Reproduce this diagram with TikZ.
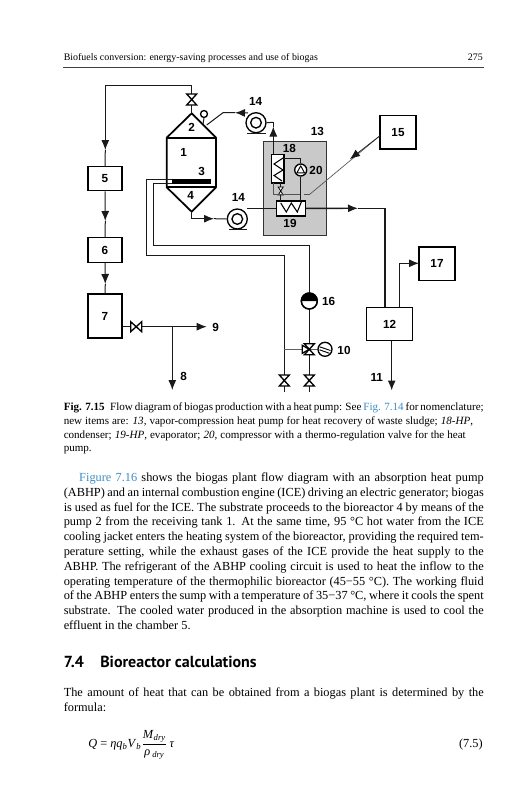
\documentclass[tikz,border=0pt]{standalone}
\usepackage{fontspec}
\setmainfont{Liberation Serif}
\newfontfamily\lblfont{Liberation Sans}
\newfontfamily\headfont{PT Sans}
\usetikzlibrary{arrows.meta,calc}
\definecolor{linkblue}{HTML}{3F8CC4}
\definecolor{boxgray}{HTML}{C9C9C9}
\definecolor{pipe}{HTML}{1A1A1A}
\newcommand{\jl}[2]{\makebox[#1][s]{#2}}
\tikzset{
  x=0.75pt,y=-0.75pt,
  pipeline/.style={draw=pipe,line width=0.75pt},
  thinline/.style={draw=pipe!75,line width=0.5pt},
  arrowline/.style={pipeline,-{Latex[length=7.5pt,width=6pt]}},
  vessel/.style={draw=black,line width=1.3pt,line join=round},
  unit/.style={draw=black,line width=1pt,fill=white,minimum width=#1,inner sep=0pt},
  lbl/.style={font=\lblfont\bfseries\fontsize{8.8}{11}\selectfont,inner sep=0pt},
  pumpc/.style={circle,draw=black,line width=1pt,fill=white,minimum size=#1,inner sep=0pt},
  body/.style={font=\fontsize{9.25}{11.1}\selectfont,inner sep=0pt,anchor=north west,align=left},
  capt/.style={font=\fontsize{8.3}{10.3}\selectfont,inner sep=0pt,anchor=north west,align=left},
  vvalve/.pic={\draw[black,line width=1pt,fill=white,line join=miter] (-5,-5.5) -- (5,-5.5) -- (-5,5.5) -- (5,5.5) -- cycle;},
  hvalve/.pic={\draw[black,line width=1pt,fill=white,line join=miter] (-5.5,-5) -- (-5.5,5) -- (5.5,-5) -- (5.5,5) -- cycle;},
  smallvalve/.pic={\draw[black,line width=0.6pt,fill=white] (-2.5,-4) -- (2.5,-4) -- (-2.5,4) -- (2.5,4) -- cycle;},
  threeway/.pic={\draw[black,line width=1pt,fill=white] (-5,-5.5) -- (5,-5.5) -- (-5,5.5) -- (5,5.5) -- cycle;
    \draw[black,line width=1pt,fill=white] (0,0) -- (-7,-4) -- (-7,4) -- cycle;},
}
\begin{document}
\begin{tikzpicture}
\useasboundingbox[fill=white] (0,0) rectangle (531,800);

% ---- header
\node[inner sep=0pt,anchor=base west,font=\fontsize{7.45}{10}\selectfont] (hdr) at (63.5,60) {Biofuels conversion: energy-saving processes and use of biogas};
\node[inner sep=0pt,anchor=base east,font=\fontsize{7.45}{10}\selectfont] (pg) at (483,60) {275};
\coordinate (ruleL) at (63,67.3); \coordinate (ruleR) at (483.5,67.3);
\draw[draw=black!75,line width=0.7pt] (ruleL) -- (ruleR);

% ---- gray housing
\node[draw=black!80,line width=0.9pt,fill=boxgray,minimum width=47.25pt,minimum height=70.5pt,inner sep=0pt,anchor=north west] (b13) at (263,141) {};

% ---- boxes
\node[unit=25.5pt,minimum height=18pt] (b5) at (105,178.7) {};
\node[unit=25.5pt,minimum height=18.5pt] (b6) at (105,250) {};
\node[unit=25.5pt,minimum height=33pt] (b7) at (105,316) {};
\node[unit=34.5pt,minimum height=25pt] (b12) at (389.7,324) {};
\node[unit=27pt,minimum height=25pt] (b15) at (398,132.2) {};
\node[unit=27pt,minimum height=25pt] (b17) at (437,263.5) {};
\node[unit=9.5pt,minimum height=21.3pt] (b18) at (277.6,168.7) {};
\node[unit=21.7pt,minimum height=11.2pt] (b19) at (290.8,208.4) {};

% ---- reactor
\coordinate (apexT) at (191.7,113.3);
\coordinate (apexB) at (191.7,211.7);
\coordinate (rTL) at (166.7,137.7); \coordinate (rTR) at (216,137.7);
\coordinate (rBL) at (166.7,187.3); \coordinate (rBR) at (216,187.3);
\draw[vessel] (apexT) -- (rTL) -- (rBL) -- (apexB) -- (rBR) -- (rTR) -- cycle;
\draw[vessel] (rTL) -- (rTR);
\draw[vessel] (rBL) -- (rBR);
\node[fill=black,minimum width=29.3pt,minimum height=3.8pt,inner sep=0pt,anchor=west] (el3) at (171.7,181.2) {};

% ---- coordinates
\coordinate (vTop) at (191.7,99.5);
\coordinate (cTL) at (105.3,85); \coordinate (cTR) at (191.7,85);
\coordinate (a5) at (105.3,150);
\coordinate (a6) at (105.3,221);
\coordinate (a7) at (105.3,284);
\coordinate (v7) at (136.2,326.7);
\coordinate (j89) at (172.3,326.7);
\coordinate (t9) at (206.7,326.7);
\coordinate (t8) at (172.3,390);
\node[pumpc=15pt] (p14t) at (256,122.7) {};
\node[pumpc=8pt] (p14ti) at (256,122.7) {};
\node[pumpc=15pt] (p14b) at (237.3,219) {};
\node[pumpc=8pt] (p14bi) at (237.3,219) {};
\coordinate (ptR) at (273.3,122.3);
\coordinate (atUp) at (273.3,126.5);
\coordinate (ptS) at (248,113);
\coordinate (ptTo) at (235,112.7);
\coordinate (ptC) at (223,112.7);
\coordinate (ptE) at (206.7,125);
\coordinate (pbS) at (191.7,218.7);
\coordinate (pbA) at (214,218.7);
\node[pumpc=5.2pt] (gauge) at (204,114) {};
\coordinate (gaugeE) at (203,124);
\coordinate (evapOutA) at (358,208.3);
\coordinate (evapC) at (385,208.3);
\coordinate (in12) at (385,307.3);
\coordinate (o17a) at (399,307.3);
\coordinate (o17b) at (399,263.3);
\coordinate (o17c) at (419,263.3);
\coordinate (o11) at (391.7,340.7);
\coordinate (t11) at (391.7,390.5);

% ---- main connectors
\draw[pipeline] (vTop) -- (apexT);
\draw[pipeline] (vTop) -- (cTR) -- (cTL);
\draw[arrowline] (cTL) -- (a5);
\draw[pipeline] (a5) -- (b5.north);
\draw[arrowline] (b5.south) -- (a6);
\draw[pipeline] (a6) -- (b6.north);
\draw[arrowline] (b6.south) -- (a7);
\draw[pipeline] (a7) -- (b7.north);
\draw[pipeline] (b7.east |- v7) -- (v7);
\draw[arrowline] (v7) -- (t9);
\draw[arrowline] (j89) -- (t8);
\pic at (v7) {hvalve};

% pump loop top
\draw[pipeline] (p14t.east) -- (ptR);
\draw[pipeline] (ptR) -- (atUp);
\draw[arrowline] (ptR |- b18.north) -- (atUp);
\draw[arrowline] (ptS) -- (ptTo);
\draw[pipeline] (ptTo) -- (ptC) -- (ptE);
\draw[pipeline] (gauge.south) -- (gaugeE);

% pump bottom
\draw[pipeline] (apexB) -- (pbS);
\draw[arrowline] (pbS) -- (pbA);
\draw[pipeline] (pbA) -- (p14b.west);
\coordinate (p14bR) at (247,208.3);
\draw[pipeline,line width=1pt] (p14bR) -- (p14bR -| b19.west);
\draw[arrowline,line width=1pt] (b19.east) -- (evapOutA);
\draw[pipeline,line width=1pt] (evapOutA) -- (evapC) -- (in12);
\draw[pipeline] (o17a) -- (o17b);
\draw[arrowline] (o17b) -- (o17c);
\draw[arrowline,line width=1pt] (o11) -- (t11);

% pump bases
\coordinate (bs1) at (247,133.3); \coordinate (bs2) at (266,133.3);
\coordinate (bs3) at (229,229.3); \coordinate (bs4) at (247,229.3);
\draw[pipeline,line width=1pt] (bs1) -- (bs2);
\draw[pipeline,line width=1pt] (bs3) -- (bs4);

% ---- heat pump internals
\node[pumpc=9pt] (c20) at (300.7,170) {};
\coordinate (k1) at (283.3,158); \coordinate (k2) at (300.7,158);
\coordinate (k3) at (300.7,201);
\draw[pipeline,line width=0.7pt] (k1) -- (k2) -- (c20.north);
\draw[pipeline,line width=0.7pt] (c20.south) -- (k3);
\draw[black,line width=0.7pt,fill=white,line join=round] ($(c20)+(0,-4.2)$) -- ($(c20)+(-3.8,2.8)$) -- ($(c20)+(3.8,2.8)$) -- cycle;
\coordinate (ev1) at (280.7,201); \coordinate (ev2) at (280.7,183);
\draw[pipeline,line width=0.7pt] (ev2) -- (ev1);
\pic at (280.7,191) {smallvalve};
\coordinate (l1) at (273,183); \coordinate (l2) at (273,194.5); \coordinate (l3) at (300,194.5);
\draw[thinline] (l1) -- (l2) -- (l3);
\draw[black,line width=0.8pt,line join=miter] (283,158) -- (274,164) -- (283,170) -- (274,175.5) -- (282,181);
\draw[black,line width=0.8pt,line join=miter] (280.7,203) -- (286.3,212) -- (291.3,203) -- (297.3,212) -- (301.3,202);

% thermo-regulation line
\coordinate (tr0) at (304,194.5); \coordinate (tr1) at (309.5,194.5);
\coordinate (tr2) at (380,135.7);
\coordinate (trA) at (350,159);
\draw[thinline] (tr0) -- (tr1) -- (tr2);
\draw[arrowline,line width=0.5pt] (tr2) -- (trA);

% ---- outer jacket pipes
\coordinate (po0) at (171.7,179.3); \coordinate (pi0) at (171.7,183.7);
\coordinate (po1) at (146,179.3); \coordinate (po2) at (146,255.7); \coordinate (po3) at (284.3,255.7);
\coordinate (po4) at (284.3,391.7);
\coordinate (pi1) at (153.3,183.7); \coordinate (pi2) at (153.3,245); \coordinate (pi3) at (309.3,245);
\coordinate (pi4) at (309.3,391.7);
\coordinate (v3) at (309.3,349.3);
\draw[pipeline] (po0) -- (po1) -- (po2) -- (po3) -- (po4);
\draw[pipeline] (pi0) -- (pi1) -- (pi2) -- (pi3) -- (pi4);
\draw[pipeline,draw=pipe!70,line width=1pt] (284.3,349.3) -- (v3);
\draw[pipeline,draw=pipe!70,line width=1pt] (v3) -- (318,349.3);

% pump 16
\node[pumpc=12pt] (p16) at (309.3,301) {};
\fill[black] ($(p16)+(-8,0)$) arc[start angle=180,end angle=360,radius=8] -- cycle;
\draw[black,line width=1pt] (p16) circle[radius=8];

% valves
\pic at (vTop) {vvalve};
\pic at (v3) {threeway};
\coordinate (vb1) at (284.3,380.5); \coordinate (vb2) at (309.3,380.5);
\pic at (vb1) {vvalve};
\pic at (vb2) {vvalve};

% actuator 10
\node[pumpc=10.5pt] (a10) at (325,349.3) {};
\draw[black,line width=0.7pt] ($(a10)+(-5.5,-2.5)$) -- ($(a10)+(5.5,1.2)$);
\draw[black,line width=0.7pt] ($(a10)+(-5.5,0.5)$) -- ($(a10)+(4.5,4)$);

% ---- labels
\node[lbl] (l1n) at (183.7,152.3) {1};
\node[lbl] (l2n) at (191.7,127.3) {2};
\node[lbl] (l3n) at (201.7,171.7) {3};
\node[lbl] (l4n) at (190.7,195) {4};
\node[lbl] (l5n) at (b5) {5};
\node[lbl] (l6n) at (b6) {6};
\node[lbl] (l7n) at (b7) {7};
\node[lbl] (l8n) at (183.7,376) {8};
\node[lbl] (l9n) at (215.7,327) {9};
\node[lbl] (l10n) at (344,350) {10};
\node[lbl] (l11n) at (376.7,377) {11};
\node[lbl] (l12n) at (b12) {12};
\node[lbl] (l13n) at (317.3,131.7) {13};
\node[lbl] (l14a) at (255.7,101.7) {14};
\node[lbl] (l14b) at (238.3,197.7) {14};
\node[lbl] (l15n) at (b15) {15};
\node[lbl] (l16n) at (328.7,301) {16};
\node[lbl] (l17n) at (b17) {17};
\node[lbl] (l18n) at (289.3,148.3) {18};
\node[lbl] (l19n) at (290,223.5) {19};
\node[lbl] (l20n) at (316,170) {20};

% ---- caption
\node[capt] (caption) at (63.5,402.5) {%
\jl{315pt}{\textbf{Fig. 7.15}\enspace Flow diagram of biogas production with a heat pump: See \textcolor{linkblue}{Fig. 7.14} for nomenclature;}\\
\jl{307pt}{new items are: \textit{13}, vapor-compression heat pump for heat recovery of waste sludge; \textit{18-HP},}\\
\jl{301.5pt}{condenser; \textit{19-HP}, evaporator; \textit{20}, compressor with a thermo-regulation valve for the heat}\\
pump.};

% ---- paragraph
\node[body] (para) at (63.5,472.5) {%
\hspace*{11.6pt}\jl{303.4pt}{\textcolor{linkblue}{Figure 7.16} shows the biogas plant flow diagram with an absorption heat pump}\\
\jl{315pt}{(ABHP) and an internal combustion engine (ICE) driving an electric generator; biogas}\\
\jl{315pt}{is used as fuel for the ICE. The substrate proceeds to the bioreactor 4 by means of the}\\
\jl{315pt}{pump 2 from the receiving tank 1. At the same time, 95 °C hot water from the ICE}\\
\jl{315pt}{cooling jacket enters the heating system of the bioreactor, providing the required tem-}\\
\jl{315pt}{perature setting, while the exhaust gases of the ICE provide the heat supply to the}\\
\jl{315pt}{ABHP. The refrigerant of the ABHP cooling circuit is used to heat the inflow to the}\\
\jl{315pt}{operating temperature of the thermophilic bioreactor (45−55 °C). The working fluid}\\
\jl{315pt}{of the ABHP enters the sump with a temperature of 35−37 °C, where it cools the spent}\\
\jl{315pt}{substrate. The cooled water produced in the absorption machine is used to cool the}\\
effluent in the chamber 5.};

% ---- heading
\node[inner sep=0pt,anchor=base west,font=\headfont\bfseries\fontsize{12}{14}\selectfont] (h74) at (63.5,667) {7.4};
\node[inner sep=0pt,anchor=base west,font=\headfont\bfseries\fontsize{12}{14}\selectfont] (h74t) at (100,667) {Bioreactor calculations};

\node[body] (para2) at (63.5,687.5) {%
\jl{315pt}{The amount of heat that can be obtained from a biogas plant is determined by the}\\
formula:};

% ---- equation
\node[inner sep=0pt,anchor=west,font=\fontsize{9.25}{11}\selectfont] (eqn) at (88,745) {%
\textit{Q} = \textit{ηq}\textsubscript{\textit{b}}\textit{V}\textsubscript{\textit{b}}$\displaystyle\frac{\hbox{\textit{M}\textsubscript{\textit{dry}}}}{\hbox{\textit{ρ}\,\textsubscript{\textit{dry}}}}$\,\textit{τ}};
\node[inner sep=0pt,anchor=east,font=\fontsize{9.25}{11}\selectfont] (eqno) at (483,745) {(7.5)};
\end{tikzpicture}
\end{document}
